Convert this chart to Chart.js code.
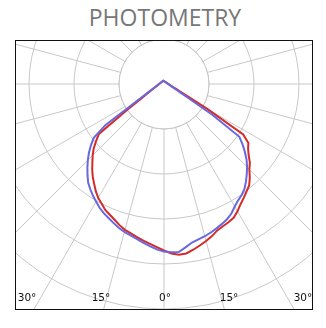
<!DOCTYPE html>
<html>
<head>
<meta charset="utf-8">
<script src="https://cdn.jsdelivr.net/npm/chart.js@4.4.1/dist/chart.umd.min.js"></script>
<style>
  html, body { margin: 0; padding: 0; background: #fff; }
  #title {
    position: absolute; left: 0; top: 1px; width: 330px;
    text-align: center; font-family: 'Open Sans', sans-serif;
    font-size: 23px; color: #777;
  }
  #box {
    position: absolute; left: 15px; top: 40px; width: 298px; height: 270px;
    box-sizing: border-box; border: 1px solid #111; overflow: hidden;
  }
  #chart { position: absolute; left: -122px; top: -227px; }
</style>
</head>
<body>
<div id="title">PHOTOMETRY</div>
<div id="box"><canvas id="chart" width="540" height="540"></canvas></div>
<script>
// gamma angles, 2.5 deg apart, from nadir going round clockwise
var angles = [];
for (var a = 0; a < 360; a += 2.5) angles.push(a + '°');

// intensity, one grid ring = 90
var blueValues = [
  335.2, 331, 325.4, 320, 314.6, 310, 306, 301.6, 295.6, 290, 285, 279,
  271.6, 264.6, 257, 249, 238, 226.8, 215.4, 203.6, 190.8, 177, 142.6, 70.6,
  47, 35.2, 28.2, 23.6, 20.4, 17.86, 15.96, 14.44, 13.22, 12.2, 11.36, 10.64,
  10.02, 9.48, 9.02, 8.62, 8.26, 7.96, 7.68, 7.44, 7.22, 7.04, 6.88, 6.72,
  6.6, 6.48, 6.38, 6.3, 6.24, 6.18, 6.14, 6.12, 6.1, 6.1, 6.1, 6.12,
  6.14, 6.18, 6.24, 6.3, 6.38, 6.48, 6.6, 6.74, 6.52, 6.24, 6.02, 5.82,
  5.62, 5.46, 5.32, 5.2, 5.08, 5.0, 4.92, 4.84, 4.78, 4.74, 4.7, 4.66,
  4.64, 4.62, 4.62, 4.62, 4.64, 4.66, 4.7, 4.74, 4.78, 4.84, 4.92, 5.0,
  5.1, 5.22, 5.34, 5.5, 5.66, 5.84, 6.04, 6.28, 6.56, 6.86, 7.22, 7.62,
  8.1, 8.64, 9.3, 10.08, 11.02, 12.18, 13.64, 15.54, 18.08, 21.6, 27.2, 36.4,
  55.2, 115.2, 184, 198, 211, 224, 235, 245, 255, 264.4, 271, 276,
  283, 292, 298.4, 302.8, 307.2, 311.4, 315.2, 318.4, 322, 329.6, 337.2, 336.6
];
var redValues = [
  333, 326.6, 321, 316, 311, 306, 302, 296, 289, 283, 278, 270,
  263, 254, 243.6, 234, 223.4, 212, 201.8, 190.6, 177.2, 164, 89.6, 54.4,
  39, 30.6, 25.2, 21.4, 18.62, 16.52, 14.88, 13.54, 12.46, 11.56, 10.8, 10.14,
  9.58, 9.1, 8.68, 8.32, 7.98, 7.7, 7.44, 7.22, 7.02, 6.86, 6.7, 6.56,
  6.44, 6.34, 6.26, 6.18, 6.12, 6.08, 6.04, 6.02, 6.02, 6.02, 6.02, 6.06,
  6.08, 6.14, 6.2, 6.26, 6.36, 6.46, 6.58, 6.74, 6.52, 6.28, 6.06, 5.86,
  5.7, 5.54, 5.42, 5.3, 5.2, 5.1, 5.04, 4.96, 4.92, 4.88, 4.84, 4.82,
  4.8, 4.8, 4.8, 4.82, 4.84, 4.86, 4.9, 4.96, 5.02, 5.1, 5.18, 5.28,
  5.4, 5.52, 5.68, 5.84, 6.02, 6.24, 6.48, 6.76, 7.06, 7.42, 7.84, 8.3,
  8.86, 9.52, 10.3, 11.24, 12.4, 13.86, 15.74, 18.24, 21.8, 27, 35.6, 52.6,
  100.6, 187.8, 206, 212, 221, 233, 241.4, 254, 265, 271, 278, 285,
  294, 301.6, 305, 308, 311.6, 319, 325, 330.8, 336.6, 341.8, 343, 339.2
];

var tickLabels = ['30°', '15°', '0°', '15°', '30°'];
var tickAngles = [-30, -15, 0, 15, 30];

var gridColor = '#c8c8c8';

var photoPlugin = {
  id: 'photo',
  beforeDatasetsDraw: function(chart) {
    // no spokes inside the first ring
    var s = chart.scales.r;
    var ctx = chart.ctx;
    var rad = s.getDistanceFromCenterForValue(90);
    ctx.save();
    ctx.beginPath();
    ctx.arc(s.xCenter, s.yCenter, rad - 0.5, 0, Math.PI * 2);
    ctx.fillStyle = '#fff';
    ctx.fill();
    ctx.beginPath();
    ctx.arc(s.xCenter, s.yCenter, rad, 0, Math.PI * 2);
    ctx.strokeStyle = gridColor;
    ctx.lineWidth = 1;
    ctx.stroke();
    ctx.restore();
  },
  afterDraw: function(chart) {
    var s = chart.scales.r;
    var ctx = chart.ctx;
    ctx.save();
    ctx.font = '10.5px "DejaVu Sans"';
    ctx.fillStyle = '#111';
    ctx.textAlign = 'center';
    for (var i = 0; i < tickLabels.length; i++) {
      var x = s.xCenter + 1 + 239 * Math.tan(tickAngles[i] * Math.PI / 180);
      ctx.fillText(tickLabels[i], x, s.yCenter + 216.5);
    }
    ctx.restore();
  }
};

var ctx = document.getElementById('chart').getContext('2d');
var myChart = new Chart(ctx, {
  type: 'radar',
  data: {
    labels: angles,
    datasets: [{
      label: 'C90-C270',
      data: blueValues,
      borderColor: '#6868e0',
      borderWidth: 2,
      fill: false,
      pointRadius: 0
    }, {
      label: 'C0-C180',
      data: redValues,
      borderColor: '#d42a2a',
      borderWidth: 2,
      fill: false,
      pointRadius: 0
    }]
  },
  options: {
    responsive: false,
    animation: false,
    layout: { padding: 0 },
    plugins: {
      legend: { display: false },
      tooltip: { enabled: false }
    },
    elements: { line: { tension: 0 } },
    scales: {
      r: {
        min: 0,
        max: 540,
        startAngle: 180,
        ticks: { display: false, stepSize: 90 },
        pointLabels: { display: false },
        grid: { circular: true, color: gridColor, lineWidth: 1 },
        angleLines: {
          lineWidth: 1,
          color: function(c) { return c.index % 6 === 0 ? gridColor : 'rgba(0,0,0,0)'; }
        }
      }
    }
  },
  plugins: [photoPlugin]
});
</script>
</body>
</html>
